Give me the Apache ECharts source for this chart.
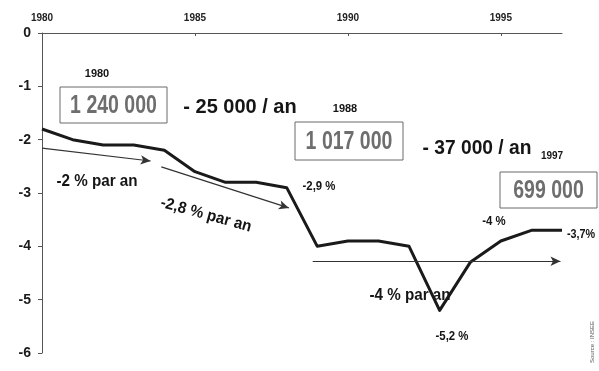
<!DOCTYPE html>
<html>
<head>
<meta charset="utf-8">
<style>
html,body{margin:0;padding:0;background:#fff;}
#main{width:599px;height:371px;}
</style>
<script src="https://cdn.jsdelivr.net/npm/echarts@6/dist/echarts.min.js"></script>
</head>
<body>
<div id="main"></div>
<script>
// ---- data ----
const years = [1980,1981,1982,1983,1984,1985,1986,1987,1988,1989,1990,1991,1992,1993,1994,1995,1996,1997];
const values = [-1.8,-2.0,-2.1,-2.1,-2.2,-2.6,-2.8,-2.8,-2.9,-4.0,-3.9,-3.9,-4.0,-5.2,-4.3,-3.9,-3.7,-3.7];
const xTickLabels = ['1980','1985','1990','1995'];
const yTickLabels = ['-6','-5','-4','-3','-2','-1','0'];
// trend arrows: [startYear, startValue, endYear, endValue]
const trendArrow1 = [1980, -2.16, 1983.55, -2.40];
const trendArrow2 = [1983.9, -2.51, 1988.07, -3.28];
const trendArrow3 = [1988.85, -4.28, 1996.95, -4.28];
// annotation texts
const boxTexts = ['1 240 000', '1 017 000', '699 000'];
const boxYears = ['1980', '1988', '1997'];
const rateTexts = ['- 25 000 / an', '- 37 000 / an'];
const trendTexts = ['-2 % par an', '-2,8 % par an', '-4 % par an'];
const pointTexts = ['-2,9 %', '-5,2 %', '-4 %', '-3,7%'];
const sourceText = 'Source : INSEE';

const chart = echarts.init(document.getElementById('main'), null, {renderer:'canvas'});
const FF = "'Liberation Sans', Arial, sans-serif";

function txt(text, x, y, size, opts) {
  opts = opts || {};
  return {
    type: 'text', x: x, y: y,
    rotation: opts.rotation || 0,
    scaleX: opts.scaleX || 1,
    silent: true,
    style: {
      text: text, x: 0, y: 0,
      font: (opts.weight || 'bold') + ' ' + size + 'px ' + FF,
      fill: opts.color || '#151515',
      align: 'center', verticalAlign: 'middle'
    }
  };
}
function box(text, x0, y0, x1, y1) {
  return [
    {type:'rect', silent:true, shape:{x:x0, y:y0, width:x1-x0, height:y1-y0},
     style:{fill:'none', stroke:'#6a6a6a', lineWidth:1}},
    txt(text, (x0+x1)/2, (y0+y1)/2 + 1, 25, {color:'#6e6e6e', scaleX:0.78})
  ];
}

const graphics = [].concat(
  box(boxTexts[0], 60, 87, 167, 123),
  box(boxTexts[1], 295, 122, 403, 160),
  box(boxTexts[2], 500, 172, 597, 208),
  [
    txt(boxYears[0], 97, 74, 11),
    txt(boxYears[1], 345, 109, 11),
    txt(boxYears[2], 552, 156, 10),
    txt(rateTexts[0], 240, 107, 20),
    txt(rateTexts[1], 477, 148, 20, {scaleX:0.96}),
    txt(trendTexts[0], 97, 182, 16, {scaleX:0.95}),
    txt(trendTexts[1], 206, 215, 16, {rotation:-0.27, scaleX:0.95}),
    txt(trendTexts[2], 410, 296, 16, {scaleX:0.95}),
    txt(pointTexts[0], 319, 187, 12, {scaleX:0.95}),
    txt(pointTexts[1], 452, 337, 12, {scaleX:0.95}),
    txt(pointTexts[2], 494, 222, 12, {scaleX:0.95}),
    txt(pointTexts[3], 581, 235, 12, {scaleX:0.9}),
    txt(sourceText, 592, 342, 6, {rotation:Math.PI/2, weight:'normal', color:'#555'})
  ]
);

function arrow(a) {
  return [{coord:[a[0], a[1]]}, {coord:[a[2], a[3]]}];
}

chart.setOption({
  animation: false,
  backgroundColor: '#ffffff',
  grid: {left: 42, right: 37, top: 33, bottom: 18, containLabel: false},
  xAxis: {
    type: 'value', position: 'top', min: 1980, max: 1997, interval: 5,
    axisLine: {show: true, lineStyle: {color: '#555', width: 1}},
    axisTick: {show: true, inside: true, length: 3, lineStyle: {color: '#555'}},
    splitLine: {show: false},
    axisLabel: {
      show: true, margin: 10, color: '#222', fontFamily: FF, fontWeight: 'bold', fontSize: 10,
      showMaxLabel: false,
      formatter: function (v) { const s = String(v); return xTickLabels.indexOf(s) >= 0 ? s : ''; }
    }
  },
  yAxis: {
    type: 'value', min: -6, max: 0, interval: 1,
    axisLine: {show: true, lineStyle: {color: '#555', width: 1}},
    axisTick: {show: true, length: 4, lineStyle: {color: '#555'}},
    splitLine: {show: false},
    axisLabel: {
      margin: 11, color: '#1a1a1a', fontFamily: FF, fontWeight: 'bold', fontSize: 14,
      formatter: function (v) { const s = String(v); return yTickLabels.indexOf(s) >= 0 ? s : ''; }
    }
  },
  series: [{
    type: 'line',
    data: years.map(function (y, i) { return [y, values[i]]; }),
    symbol: 'none',
    lineStyle: {color: '#1a1a1a', width: 3, join: 'round'},
    markLine: {
      silent: true,
      symbol: ['none', 'arrow'],
      symbolSize: [7, 10],
      label: {show: false},
      lineStyle: {color: '#333', width: 1.2, type: 'solid'},
      emphasis: {disabled: true},
      data: [arrow(trendArrow1), arrow(trendArrow2), arrow(trendArrow3)]
    }
  }],
  graphic: graphics
});
</script>
</body>
</html>
